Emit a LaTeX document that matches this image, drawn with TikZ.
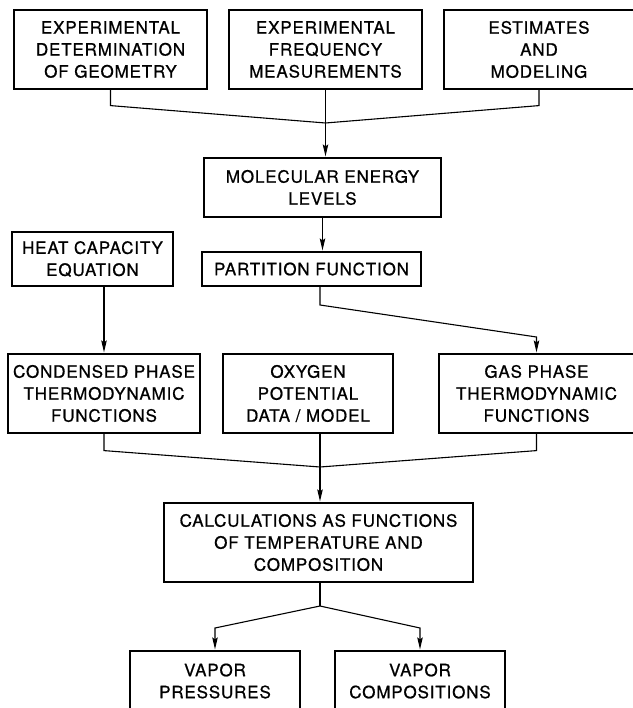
\documentclass[tikz,border=0pt]{standalone}
\usepackage{fontspec}
\setmainfont{TeX Gyre Heros}[LetterSpace=5, FakeBold=0.8]
\usetikzlibrary{arrows.meta}

\tikzset{
    box/.style={draw, line width=1.2pt, align=center, inner sep=0pt,
        font=\fontsize{17}{22}\selectfont},
    flow/.style={line width=1.1pt},
    arrow/.style={flow, -{Stealth[length=12pt, width=5.5pt, inset=2pt]}, shorten >=1pt},
}

\begin{document}
\begin{tikzpicture}[x=1pt, y=-1pt]
        \useasboundingbox (0,0) rectangle (632,708);
        % top row
        \node[box, minimum width=193pt, minimum height=79pt] (geom) at (110.5,49.5) {EXPERIMENTAL\\DETERMINATION\\OF GEOMETRY};
        \node[box, minimum width=193pt, minimum height=79pt] (freq) at (325.5,49.5) {EXPERIMENTAL\\FREQUENCY\\MEASUREMENTS};
        \node[box, minimum width=190pt, minimum height=79pt] (model) at (539,49.5) {ESTIMATES\\AND\\MODELING};
        % energy levels
        \node[box, minimum width=237pt, minimum height=59pt] (levels) at (322.5,187.5) {MOLECULAR ENERGY\\LEVELS};
        \node[box, minimum width=161pt, minimum height=54pt] (heat) at (92.5,259) {HEAT CAPACITY\\EQUATION};
        \node[box, minimum width=219pt, minimum height=34pt] (part) at (311.5,269) {PARTITION FUNCTION};
        % middle row
        \node[box, minimum width=192pt, minimum height=79pt] (cond) at (104,393.5) {CONDENSED PHASE\\THERMODYNAMIC\\FUNCTIONS};
        \node[box, minimum width=170pt, minimum height=79pt] (oxy) at (308,393.5) {OXYGEN\\POTENTIAL\\DATA / MODEL};
        \node[box, minimum width=195pt, minimum height=79pt] (gas) at (536.5,393.5) {GAS PHASE\\THERMODYNAMIC\\FUNCTIONS};
        % calculations and results
        \node[box, minimum width=309pt, minimum height=79pt] (calc) at (318.5,542.5) {CALCULATIONS AS FUNCTIONS\\OF TEMPERATURE AND\\COMPOSITION};
        \node[box, minimum width=170pt, minimum height=60pt] (vpres) at (215,681) {VAPOR\\PRESSURES};
        \node[box, minimum width=170pt, minimum height=60pt] (vcomp) at (420,681) {VAPOR\\COMPOSITIONS};

        % joins
        \coordinate (topjoin) at (325.5,123);
        \coordinate (pbend) at (320,305);
        \coordinate (gbend) at (536.5,337);
        \coordinate (midjoin) at (320,467);
        \coordinate (split) at (320,606);

        \foreach \b in {geom,model} {
            \draw[flow] (\b.south) -- ++(0,16) -- (topjoin);
        }
        \draw[flow] (freq.south) -- (topjoin);
        \draw[arrow] (topjoin) -- (topjoin |- levels.north);
        \draw[arrow] (levels.south) -- (levels.south |- part.north);
        \draw[arrow] (pbend |- part.south) -- (pbend) -- (gbend) -- (gas.north);
        \draw[arrow] (cond.north |- heat.south) -- (cond.north);

        \foreach \b in {cond,gas} {
            \draw[flow] (\b.south) -- ++(0,17) -- (midjoin);
        }
        \draw[flow] (midjoin |- oxy.south) -- (midjoin);
        \draw[arrow] (midjoin) -- (midjoin |- calc.north);

        \draw[flow] (split |- calc.south) -- (split);
        \foreach \b in {vpres,vcomp} {
            \draw[arrow] (split) -- (\b.north |- 0,628) -- (\b.north);
        }
    \end{tikzpicture}
\end{document}
